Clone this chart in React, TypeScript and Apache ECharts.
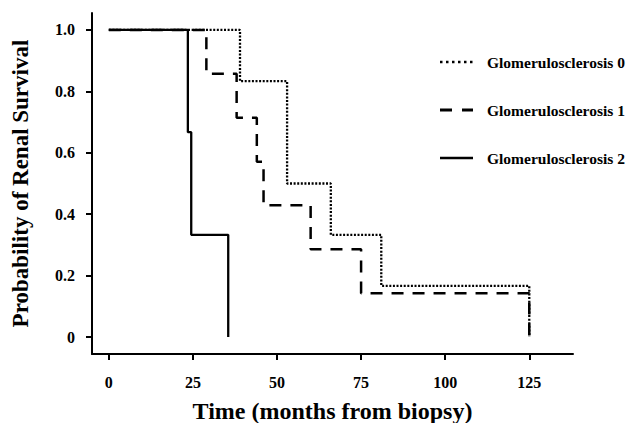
import React, { useEffect, useRef } from "react";
import * as echarts from "echarts";

const seriesNames = ["Glomerulosclerosis 0", "Glomerulosclerosis 1", "Glomerulosclerosis 2"];

const g0Times = [0, 39, 53, 66, 81, 125];
const g0Survival = [1, 0.833, 0.5, 0.333, 0.167, 0];

const g1Times = [0, 29, 38, 44, 46, 60, 75, 125];
const g1Survival = [1, 0.857, 0.714, 0.571, 0.429, 0.286, 0.143, 0];

const g2Times = [0, 23.5, 24.5, 35.5];
const g2Survival = [1, 0.667, 0.333, 0];

const xTicks = [0, 25, 50, 75, 100, 125];
const yTicks = [0, 0.2, 0.4, 0.6, 0.8, 1.0];

const FONT = "Liberation Serif";

function pairs(t: number[], s: number[]) {
  return t.map((v, i) => [v, s[i]]);
}

// legend icons (33 x 14 box, corner anchors keep the box size)
const FRAME = "M0,0h0.01v0.01h-0.01z M32.99,13.99h0.01v0.01h-0.01z";
const DOTTED_ICON =
  "path://" +
  FRAME +
  " M0,5.75h2.5v2.5h-2.5z M6,5.75h2.5v2.5h-2.5z M12,5.75h2.5v2.5h-2.5z M18,5.75h2.5v2.5h-2.5z M24,5.75h2.5v2.5h-2.5z M30,5.75h2.5v2.5h-2.5z";
const DASHED_ICON = "path://" + FRAME + " M0,5.5h12v3h-12z M22,5.5h11v3h-11z";
const SOLID_ICON = "path://" + FRAME + " M0,5.75h33v2.5h-33z";

export default function App() {
  const ref = useRef<HTMLDivElement>(null);
  useEffect(() => {
    if (!ref.current) return;
    const chart = echarts.init(ref.current, null, { renderer: "svg" });
    const lineTypes: any[] = [[2, 1.6], [12, 9], "solid"];
    const icons = [DOTTED_ICON, DASHED_ICON, SOLID_ICON];
    const datas = [
      pairs(g0Times, g0Survival),
      pairs(g1Times, g1Survival),
      pairs(g2Times, g2Survival),
    ];
    chart.setOption({
      animation: false,
      backgroundColor: "#ffffff",
      grid: {
        left: 92,
        right: 59,
        top: 13,
        bottom: 69,
        containLabel: false,
        outerBoundsMode: "none",
      },
      legend: {
        orient: "vertical",
        left: 435,
        top: 49,
        itemWidth: 33,
        itemHeight: 14,
        itemGap: 32,
        symbolKeepAspect: false,
        itemStyle: { borderWidth: 0 },
        data: seriesNames.map((name, i) => ({ name, icon: icons[i] })),
        textStyle: {
          fontFamily: FONT,
          fontWeight: "bold",
          fontSize: 15.5,
          color: "#000",
          padding: [0, 0, 0, 9],
        },
      },
      xAxis: {
        type: "value",
        min: -5,
        max: 138,
        name: "Time (months from biopsy)",
        nameLocation: "middle",
        nameGap: 45,
        nameTextStyle: { fontFamily: FONT, fontWeight: "bold", fontSize: 24, color: "#000" },
        axisLine: { show: true, onZero: false, lineStyle: { color: "#000", width: 2 } },
        axisTick: { show: true, length: 6, lineStyle: { color: "#000", width: 2 }, customValues: xTicks },
        axisLabel: {
          fontFamily: FONT,
          fontWeight: "bold",
          fontSize: 16,
          color: "#000",
          margin: 20,
          customValues: xTicks,
        },
        splitLine: { show: false },
      },
      yAxis: {
        type: "value",
        min: -0.055,
        max: 1.055,
        name: "Probability of Renal Survival",
        nameLocation: "middle",
        nameGap: 60,
        nameTextStyle: { fontFamily: FONT, fontWeight: "bold", fontSize: 23, color: "#000" },
        axisLine: { show: true, onZero: false, lineStyle: { color: "#000", width: 2 } },
        axisTick: { show: true, length: 6, lineStyle: { color: "#000", width: 2 }, customValues: yTicks },
        axisLabel: {
          fontFamily: FONT,
          fontWeight: "bold",
          fontSize: 16,
          color: "#000",
          margin: 17,
          customValues: yTicks,
          formatter: (v: number) => (v === 0 ? "0" : v.toFixed(1)),
        },
        splitLine: { show: false },
      },
      series: seriesNames.map((name, i) => ({
        name,
        type: "line",
        step: "end",
        symbol: "none",
        data: datas[i],
        color: "#000",
        lineStyle: { color: "#000", width: i === 1 ? 2.5 : 2.3, type: lineTypes[i] },
        z: 2 + i,
      })),
    });
    return () => chart.dispose();
  }, []);
  return (
    <div
      ref={ref}
      style={{ position: "fixed", left: 0, top: 0, width: 632, height: 423 }}
    />
  );
}
